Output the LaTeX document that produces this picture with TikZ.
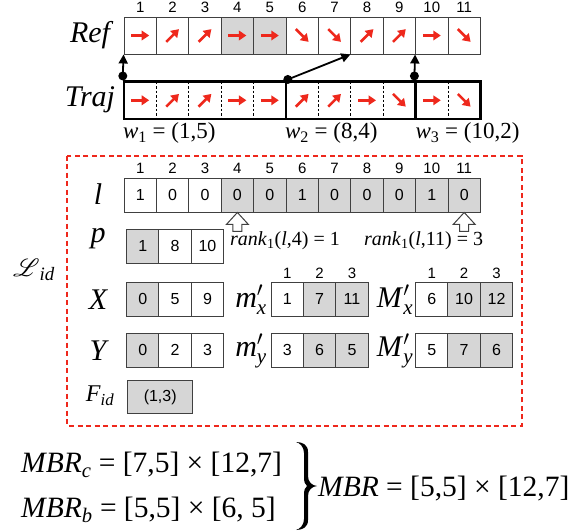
\RequirePackage{fix-cm}
\documentclass[tikz,border=0pt]{standalone}
\usepackage{amsmath}
\usepackage{mathrsfs}
\usepackage{fontspec}
\setmainfont{Liberation Serif}
\newfontfamily\cellfont{Liberation Sans}
\usetikzlibrary{arrows.meta,calc}
\definecolor{arrred}{RGB}{238,40,28}
\definecolor{cellgray}{RGB}{214,214,214}
\begin{document}
\begin{tikzpicture}[x=1pt,y=-1pt,
  cell/.style={draw=black!75,line width=0.9pt,minimum width=32.4pt,minimum height=34pt,
    inner sep=0pt,font=\cellfont\fontsize{16}{16}\selectfont},
  shade/.style={fill=cellgray},
  idx/.style={inner sep=0pt,font=\cellfont\fontsize{15}{15}\selectfont},
  lbl/.style={inner sep=0pt,font=\fontsize{30}{30}\selectfont\itshape},
  sym/.style={inner sep=0pt,font=\fontsize{30}{30}\selectfont},
  dir/.style={draw=arrred,line width=2.6pt,-{Triangle[length=7.5pt,width=9.5pt]}},
  link/.style={draw=black,line width=1.8pt,-{Triangle[length=9pt,width=9pt]}},
  seg/.style={draw=black,line width=2.4pt,minimum height=37.3pt,inner sep=0pt},
  sep/.style={draw=black,line width=0.8pt,dash pattern=on 2.5pt off 2pt},
  hollow/.style={draw=black!75,line width=1pt,fill=white,line join=miter},
  wlab/.style={inner sep=0pt,anchor=west,font=\fontsize{23}{23}\selectfont},
  rlab/.style={inner sep=0pt,anchor=west,font=\fontsize{20}{20}\selectfont},
  eq/.style={inner sep=0pt,font=\fontsize{29.5}{29.5}\selectfont}]
\useasboundingbox (0,0) rectangle (571,531);

% ---------- reference trajectory ----------
\foreach \i/\a/\s in {1/0/,2/-45/,3/-45/,4/0/shade,5/0/shade,6/45/,7/45/,8/-45/,9/-45/,10/0/,11/45/} {
  \node[cell,minimum height=37pt,\s] (r\i) at ({124+(\i-0.5)*32.4},35.5) {};
  \node[idx] at ($(r\i.north)+(0,-9.5)$) {\i};
  \draw[dir] ($(r\i.center)+(\a+180:9)$) -- ($(r\i.center)+(\a:9)$);
}
\node[lbl] (lref) at (90,35) {Ref};

% ---------- compressed trajectory ----------
\foreach \i/\a in {1/0,2/-45,3/-45,4/0,5/0,6/-45,7/-45,8/0,9/45,10/0,11/45} {
  \coordinate (t\i) at ({124+(\i-0.5)*32.4},100.3);
  \draw[dir] ($(t\i)+(\a+180:9)$) -- ($(t\i)+(\a:9)$);
}
\foreach \k in {1,2,3,4,6,7,8,10}
  \draw[sep] ({124+\k*32.4},81.7) -- ({124+\k*32.4},119);
\node[seg,minimum width=162pt]   (seg1) at (205,100.3) {};
\node[seg,minimum width=129.6pt] (seg2) at (350.8,100.3) {};
\node[seg,minimum width=64.8pt]  (seg3) at (448,100.3) {};
\node[lbl] (ltraj) at (90,100) {Traj};

\coordinate (k1) at ($(seg1.north west)+(0,-4.5)$);
\coordinate (k2) at ($(seg2.north west)+(3,-1)$);
\coordinate (k3) at ($(seg3.north west)+(0,-4.5)$);
\draw[link] (k1) -- (r1.south west);
\draw[link] (k2) -- (r8.south west);
\draw[link] (k3) -- (r10.south west);
\foreach \k in {k1,k2,k3} \fill (\k) circle (4.5);

\node[wlab] (w1) at ($(seg1.south west)+(0,13)$) {\textit{w}\textsubscript{1} = (1,5)};
\node[wlab] (w2) at ($(seg2.south west)+(0,13)$) {\textit{w}\textsubscript{2} = (8,4)};
\node[wlab] (w3) at ($(seg3.south west)+(1,13)$) {\textit{w}\textsubscript{3} = (10,2)};

% ---------- index structure ----------
\draw[draw=arrred,line width=2pt,dash pattern=on 5pt off 3.5pt] (67,155.7) rectangle (521.7,425.7);
\node[inner sep=0pt,font=\fontsize{27}{27}\selectfont] (lid) at (34,270)
  {$\mathscr{L}$\textsubscript{\textit{id}}};

% bit vector l
\foreach \i/\v/\s in {1/1/,2/0/,3/0/,4/0/shade,5/0/shade,6/1/shade,7/0/shade,8/0/shade,9/0/shade,10/1/shade,11/0/shade} {
  \node[cell,\s] (l\i) at ({124+(\i-0.5)*32.4},195) {\v};
  \node[idx] at ($(l\i.north)+(0,-9)$) {\i};
}
\node[lbl,anchor=base] (ll) at (98,204) {l};
\draw[hollow] (l4.south) -- ++(11,12) -- ++(-6.5,0) -- ++(0,7) -- ++(-9,0) -- ++(0,-7) -- ++(-6.5,0) -- cycle;
\draw[hollow] (l11.south) -- ++(11,12) -- ++(-6.5,0) -- ++(0,7) -- ++(-9,0) -- ++(0,-7) -- ++(-6.5,0) -- cycle;
\node[rlab] (rk1) at (230,241) {\textit{rank}\textsubscript{1}(\textit{l},4) = 1};
\node[rlab] (rk2) at (364,241) {\textit{rank}\textsubscript{1}(\textit{l},11) = 3};

% start positions p
\foreach \i/\v/\s in {1/1/shade,2/8/,3/10/}
  \node[cell,\s] (p\i) at ({126.5+(\i-0.5)*32.4},246) {\v};
\node[lbl,anchor=base] (lp) at (98,242) {p};

% X and Y
\foreach \i/\v/\s in {1/0/shade,2/5/,3/9/}
  \node[cell,\s] (x\i) at ({126.5+(\i-0.5)*32.4},299) {\v};
\foreach \i/\v/\s in {1/0/shade,2/2/,3/3/}
  \node[cell,\s] (y\i) at ({126.5+(\i-0.5)*32.4},350) {\v};
\node[lbl,anchor=base] (lx) at (98,309) {X};
\node[lbl,anchor=base] (ly) at (98,360) {Y};

% minima and maxima
\foreach \i/\v/\s in {1/1/,2/7/shade,3/11/shade} {
  \node[cell,\s] (mx\i) at ({271+(\i-0.5)*32.4},299) {\v};
  \node[idx] at ($(mx\i.north)+(0,-8.5)$) {\i};
}
\foreach \i/\v/\s in {1/6/,2/10/shade,3/12/shade} {
  \node[cell,\s] (Mx\i) at ({415.5+(\i-0.5)*32.4},299) {\v};
  \node[idx] at ($(Mx\i.north)+(0,-8.5)$) {\i};
}
\foreach \i/\v/\s in {1/3/,2/6/shade,3/5/shade}
  \node[cell,\s] (my\i) at ({271+(\i-0.5)*32.4},350) {\v};
\foreach \i/\v/\s in {1/5/,2/7/shade,3/6/shade}
  \node[cell,\s] (My\i) at ({415.5+(\i-0.5)*32.4},350) {\v};
\node[sym,anchor=base] (lmx) at (251,307) {\textit{m}$'_{\textit{x}}$};
\node[sym,anchor=base] (lMx) at (395,307) {\textit{M}$'_{\textit{x}}$};
\node[sym,anchor=base] (lmy) at (251,356) {\textit{m}$'_{\textit{y}}$};
\node[sym,anchor=base] (lMy) at (395,356) {\textit{M}$'_{\textit{y}}$};

% frequent pairs
\node[cell,shade,minimum width=65pt,minimum height=33pt] (fid) at (160.2,397.3) {(1,3)};
\node[inner sep=0pt,anchor=base,font=\fontsize{24}{24}\selectfont] (lf) at (100,401.5)
  {\textit{F}\textsubscript{\textit{id}}};

% ---------- bounding boxes ----------
\node[eq,anchor=west] (mbrc) at (21,465) {\textit{MBR}\textsubscript{\textit{c}} = [7,5] × [12,7]};
\node[eq,anchor=west] (mbrb) at (21,510) {\textit{MBR}\textsubscript{\textit{b}} = [5,5] × [6, 5]};
% right brace joining the two boxes
\fill (296,442) .. controls (303,442) and (308,445) .. (308,452) -- (308,476)
  .. controls (308,482) and (312,485.5) .. (317,486)
  .. controls (312,486.5) and (308,490) .. (308,496) -- (308,520)
  .. controls (308,527) and (303,530) .. (296,530)
  .. controls (300,529) and (304,525) .. (304,519) -- (304,495)
  .. controls (304,490) and (305,487.5) .. (307,486)
  .. controls (305,484.5) and (304,482) .. (304,477) -- (304,453)
  .. controls (304,447) and (300,443) .. (296,442) -- cycle;
\node[eq,anchor=west] (mbr) at (318,489) {\textit{MBR} = [5,5] × [12,7]};
\end{tikzpicture}
\end{document}
